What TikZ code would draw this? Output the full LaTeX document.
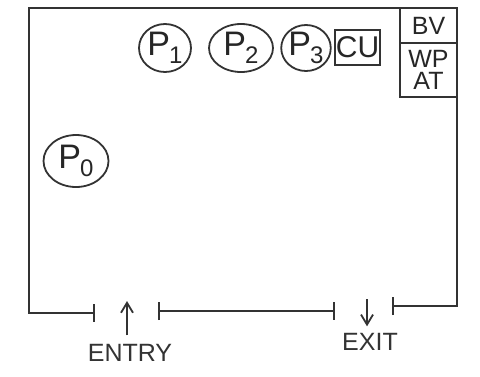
\documentclass[tikz,border=0pt]{standalone}
\usepackage{fontspec}
\setmainfont{Liberation Sans}
\usetikzlibrary{arrows.meta,positioning,shapes.geometric}

\newcommand\pname[1]{P\kern-0.5pt\raisebox{-0.45ex}{\fontsize{12}{12}\selectfont#1}}

\begin{document}
\begin{tikzpicture}[x=0.5pt,y=-0.5pt,
  wall/.style={line width=1.1pt, color=black!80},
  door/.style={wall, {Bar[width=9pt]}-{Bar[width=9pt]}},
  proc/.style={draw, ellipse, line width=0.9pt, color=black!80, text=black!85, inner sep=0pt,
    font=\fontsize{17}{17}\selectfont},
  unit/.style={draw, rectangle, line width=0.9pt, color=black!80, text=black!85, inner sep=0pt},
  arr/.style={-{Straight Barb[length=5pt,width=6pt]}, line width=0.9pt, color=black!80},
  lbl/.style={text=black!80, font=\fontsize{12.5}{12.5}\selectfont}
]
\useasboundingbox (0,0) rectangle (480,376);

% walls with the two doorways
\draw[door] (95,313) -- (29,313) -- (29,8) -- (457,8) -- (457,306) -- (392,306);
\draw[door] (158,311) -- (335,311);

% processors and control unit
\node[proc, minimum width=26pt, minimum height=24pt] (p1) at (165,48) {\pname{1}};
\node[proc, minimum width=32pt, minimum height=24pt] (p2) at (241,48) {\pname{2}};
\node[proc, minimum width=24pt, minimum height=23pt] (p3) at (306,48) {\pname{3}};
\node[unit, minimum width=22.5pt, minimum height=17.5pt, font=\fontsize{15}{15}\selectfont] (cu) at (357.5,47.5) {CU};
\node[proc, minimum width=32.5pt, minimum height=26pt] (p0) at (76,161) {\pname{0}};

% corner cabinet
\node[unit, minimum width=28.5pt, minimum height=17.5pt, font=\fontsize{12.5}{12.5}\selectfont] (bv) at (428.5,25.5) {BV};
\node[unit, minimum width=28.5pt, minimum height=27pt, align=center,
  font=\fontsize{12.5}{11}\selectfont] (wpat) at (428.5,70) {WP\\AT};

% entry and exit
\node[lbl] (entry) at (130,353) {ENTRY};
\coordinate (entryhead) at (127,301);
\draw[arr] (entry.north -| entryhead) ++(0,-2) -- (entryhead);
\node[lbl] (exit) at (370,342) {EXIT};
\coordinate (exittop) at (367,299);
\draw[arr] (exittop) -- (exittop |- exit.north);
\end{tikzpicture}
\end{document}
